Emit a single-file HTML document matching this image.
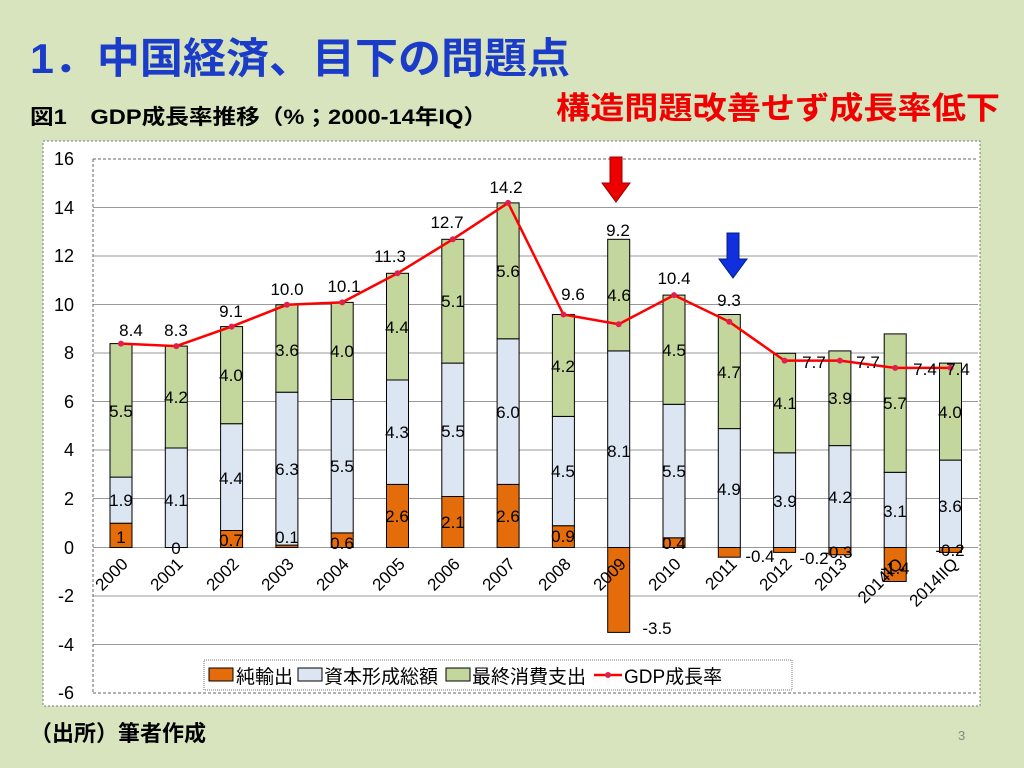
<!DOCTYPE html>
<html><head><meta charset="utf-8"><style>
body{margin:0;width:1024px;height:768px;background:#d7e4bd;overflow:hidden;font-family:"Liberation Sans","Noto Sans CJK JP",sans-serif;}
</style></head><body>
<svg width="1024" height="768" xmlns="http://www.w3.org/2000/svg" style="position:absolute;left:0;top:0" font-family="Liberation Sans, Noto Sans CJK JP, sans-serif">
<text x="30" y="73" font-size="42" font-weight="bold" fill="#1a3cc8" textLength="540" lengthAdjust="spacingAndGlyphs">1．中国経済、目下の問題点</text>
<text x="30" y="124" font-size="21" font-weight="bold" fill="#000" textLength="457" lengthAdjust="spacingAndGlyphs">図1　GDP成長率推移（%；2000-14年IQ）</text>
<text x="556" y="119" font-size="31" font-weight="bold" fill="#f00000" textLength="444" lengthAdjust="spacingAndGlyphs">構造問題改善せず成長率低下</text>
<rect x="43" y="141" width="937" height="565" fill="#fff" stroke="#777" stroke-dasharray="2,2"/>
<g stroke="#999" stroke-width="1">
<line x1="93" x2="978" y1="159" y2="159" stroke-dasharray="3,2" stroke="#666"/>
<line x1="93" x2="978" y1="207.5" y2="207.5"/><line x1="93" x2="978" y1="256" y2="256"/>
<line x1="93" x2="978" y1="304.5" y2="304.5"/><line x1="93" x2="978" y1="353" y2="353"/>
<line x1="93" x2="978" y1="401.5" y2="401.5"/><line x1="93" x2="978" y1="450" y2="450"/>
<line x1="93" x2="978" y1="498.5" y2="498.5"/><line x1="93" x2="978" y1="547.5" y2="547.5"/>
<line x1="93" x2="978" y1="596" y2="596"/><line x1="93" x2="978" y1="644.5" y2="644.5"/>
<line x1="93" x2="978" y1="693" y2="693" stroke-dasharray="3,2" stroke="#666"/>
<line x1="93" x2="93" y1="159" y2="693" stroke-dasharray="3,2" stroke="#666"/>
</g>
<g font-size="18" fill="#000" text-anchor="end">
<text x="74" y="165">16</text><text x="74" y="214">14</text><text x="74" y="262">12</text><text x="74" y="311">10</text><text x="74" y="359">8</text><text x="74" y="408">6</text><text x="74" y="456">4</text><text x="74" y="505">2</text><text x="74" y="554">0</text><text x="74" y="602">-2</text><text x="74" y="651">-4</text><text x="74" y="699">-6</text>
</g>
<g stroke="#000" stroke-width="1">
<g fill="#e46c0a">
<rect x="110" y="523.2" width="22" height="24.3"/>
<rect x="220.6" y="530.5" width="22" height="17"/>
<rect x="275.9" y="545.1" width="22" height="2.4"/>
<rect x="331.2" y="532.9" width="22" height="14.6"/>
<rect x="386.5" y="484.4" width="22" height="63.1"/>
<rect x="441.8" y="496.5" width="22" height="51"/>
<rect x="497.1" y="484.4" width="22" height="63.1"/>
<rect x="552.4" y="525.7" width="22" height="21.8"/>
<rect x="607.7" y="547.5" width="22" height="84.9"/>
<rect x="663" y="537.8" width="22" height="9.7"/>
<rect x="718.3" y="547.5" width="22" height="9.7"/>
<rect x="773.6" y="547.5" width="22" height="4.9"/>
<rect x="828.9" y="547.5" width="22" height="7.3"/>
<rect x="884.2" y="547.5" width="22" height="34"/>
<rect x="939.5" y="547.5" width="22" height="4.9"/>
</g>
<g fill="#dce6f2">
<rect x="110" y="477.1" width="22" height="46.1"/>
<rect x="165.3" y="448" width="22" height="99.5"/>
<rect x="220.6" y="423.7" width="22" height="106.8"/>
<rect x="275.9" y="392.2" width="22" height="152.9"/>
<rect x="331.2" y="399.5" width="22" height="133.4"/>
<rect x="386.5" y="380" width="22" height="104.4"/>
<rect x="441.8" y="363.1" width="22" height="133.4"/>
<rect x="497.1" y="338.8" width="22" height="145.6"/>
<rect x="552.4" y="416.4" width="22" height="109.3"/>
<rect x="607.7" y="350.9" width="22" height="196.6"/>
<rect x="663" y="404.3" width="22" height="133.5"/>
<rect x="718.3" y="428.6" width="22" height="118.9"/>
<rect x="773.6" y="452.8" width="22" height="94.7"/>
<rect x="828.9" y="445.6" width="22" height="101.9"/>
<rect x="884.2" y="472.3" width="22" height="75.2"/>
<rect x="939.5" y="460.1" width="22" height="87.4"/>
</g>
<g fill="#c3d69b">
<rect x="110" y="343.6" width="22" height="133.5"/>
<rect x="165.3" y="346.1" width="22" height="101.9"/>
<rect x="220.6" y="326.6" width="22" height="97.1"/>
<rect x="275.9" y="304.8" width="22" height="87.4"/>
<rect x="331.2" y="302.4" width="22" height="97.1"/>
<rect x="386.5" y="273.3" width="22" height="106.7"/>
<rect x="441.8" y="239.3" width="22" height="123.8"/>
<rect x="497.1" y="202.9" width="22" height="135.9"/>
<rect x="552.4" y="314.5" width="22" height="101.9"/>
<rect x="607.7" y="239.3" width="22" height="111.6"/>
<rect x="663" y="295.1" width="22" height="109.2"/>
<rect x="718.3" y="314.5" width="22" height="114.1"/>
<rect x="773.6" y="353.3" width="22" height="99.5"/>
<rect x="828.9" y="350.9" width="22" height="94.7"/>
<rect x="884.2" y="333.9" width="22" height="138.4"/>
<rect x="939.5" y="363.1" width="22" height="97"/>
</g>
</g>
<polyline fill="none" stroke="#f00" stroke-width="2.5" points="121,343.6 176.3,346.1 231.6,326.6 286.9,304.8 342.2,302.4 397.5,273.3 452.8,239.3 508.1,202.9 563.4,314.5 618.7,324.2 674,295.1 729.3,321.8 784.6,360.6 839.9,360.6 895.2,367.9 950.5,367.9"/>
<g fill="#e0204a">
<circle cx="121" cy="343.6" r="3"/><circle cx="176.3" cy="346.1" r="3"/><circle cx="231.6" cy="326.6" r="3"/><circle cx="286.9" cy="304.8" r="3"/><circle cx="342.2" cy="302.4" r="3"/><circle cx="397.5" cy="273.3" r="3"/><circle cx="452.8" cy="239.3" r="3"/><circle cx="508.1" cy="202.9" r="3"/><circle cx="563.4" cy="314.5" r="3"/><circle cx="618.7" cy="324.2" r="3"/><circle cx="674" cy="295.1" r="3"/><circle cx="729.3" cy="321.8" r="3"/><circle cx="784.6" cy="360.6" r="3"/><circle cx="839.9" cy="360.6" r="3"/><circle cx="895.2" cy="367.9" r="3"/><circle cx="950.5" cy="367.9" r="3"/>
</g>
<g font-size="17" fill="#000" text-anchor="middle">
<text x="131" y="336">8.4</text><text x="176" y="336">8.3</text><text x="231" y="317">9.1</text><text x="287" y="295">10.0</text><text x="344" y="292">10.1</text><text x="390" y="262">11.3</text><text x="447" y="228">12.7</text><text x="506" y="193">14.2</text><text x="573" y="300">9.6</text><text x="618" y="236">9.2</text><text x="674" y="284">10.4</text><text x="729" y="306">9.3</text><text x="814" y="368">7.7</text><text x="868" y="368">7.7</text><text x="925" y="375">7.4</text><text x="958" y="375">7.4</text>
<text x="121" y="417">5.5</text><text x="176" y="403">4.2</text><text x="231" y="381">4.0</text><text x="287" y="356">3.6</text><text x="342" y="357">4.0</text><text x="397" y="333">4.4</text><text x="453" y="307">5.1</text><text x="508" y="277">5.6</text><text x="563" y="372">4.2</text><text x="619" y="301">4.6</text><text x="674" y="356">4.5</text><text x="729" y="378">4.7</text><text x="785" y="409">4.1</text><text x="840" y="404">3.9</text><text x="895" y="409">5.7</text><text x="950" y="418">4.0</text>
<text x="121" y="506">1.9</text><text x="176" y="506">4.1</text><text x="231" y="484">4.4</text><text x="287" y="475">6.3</text><text x="342" y="472">5.5</text><text x="397" y="438">4.3</text><text x="453" y="437">5.5</text><text x="508" y="418">6.0</text><text x="563" y="477">4.5</text><text x="619" y="457">8.1</text><text x="674" y="477">5.5</text><text x="729" y="495">4.9</text><text x="785" y="507">3.9</text><text x="840" y="503">4.2</text><text x="895" y="517">3.1</text><text x="950" y="512">3.6</text>
<text x="121" y="543">1</text><text x="176" y="554">0</text><text x="231" y="546">0.7</text><text x="287" y="543">0.1</text><text x="342" y="549">0.6</text><text x="397" y="522">2.6</text><text x="453" y="528">2.1</text><text x="508" y="522">2.6</text><text x="563" y="542">0.9</text><text x="657" y="634">-3.5</text><text x="674" y="549">0.4</text><text x="760" y="562">-0.4</text><text x="814" y="564">-0.2</text><text x="838" y="558">-0.3</text><text x="895" y="574">-1.4</text><text x="950" y="556">-0.2</text>
</g>
<g font-size="17" fill="#000" text-anchor="end">
<text transform="translate(129,565) rotate(-45)">2000</text>
<text transform="translate(184,565) rotate(-45)">2001</text>
<text transform="translate(240,565) rotate(-45)">2002</text>
<text transform="translate(295,565) rotate(-45)">2003</text>
<text transform="translate(350,565) rotate(-45)">2004</text>
<text transform="translate(406,565) rotate(-45)">2005</text>
<text transform="translate(461,565) rotate(-45)">2006</text>
<text transform="translate(516,565) rotate(-45)">2007</text>
<text transform="translate(572,565) rotate(-45)">2008</text>
<text transform="translate(627,565) rotate(-45)">2009</text>
<text transform="translate(682,565) rotate(-45)">2010</text>
<text transform="translate(738,565) rotate(-45)">2011</text>
<text transform="translate(793,565) rotate(-45)">2012</text>
<text transform="translate(848,565) rotate(-45)">2013</text>
<text transform="translate(904,565) rotate(-45)">2014IQ</text>
<text transform="translate(959,565) rotate(-45)">2014IIQ</text>
</g>
<path d="M610,157 L622,157 L622,183 L630,183 L616,202 L602,183 L610,183 Z" fill="#e00" stroke="#900"/>
<path d="M727,233 L739,233 L739,259 L747,259 L733,278 L719,259 L727,259 Z" fill="#1030e0" stroke="#002080"/>
<rect x="204" y="660" width="588" height="30" fill="#fff" stroke="#777" stroke-dasharray="1,1"/>
<rect x="209" y="668" width="24" height="13" fill="#e46c0a" stroke="#000"/>
<text x="236" y="683" font-size="19">純輸出</text>
<rect x="298" y="668" width="24" height="13" fill="#dce6f2" stroke="#000"/>
<text x="324" y="683" font-size="19">資本形成総額</text>
<rect x="446" y="668" width="24" height="13" fill="#c3d69b" stroke="#000"/>
<text x="472" y="683" font-size="19">最終消費支出</text>
<line x1="594" y1="675" x2="622" y2="675" stroke="#f00" stroke-width="2.5"/>
<circle cx="608" cy="675" r="3" fill="#e0204a"/>
<text x="624" y="683" font-size="19">GDP成長率</text>
<text x="30" y="741" font-size="22" font-weight="bold">（出所）筆者作成</text>
<text x="958" y="740" font-size="13" fill="#888">3</text>
</svg>
</body></html>
